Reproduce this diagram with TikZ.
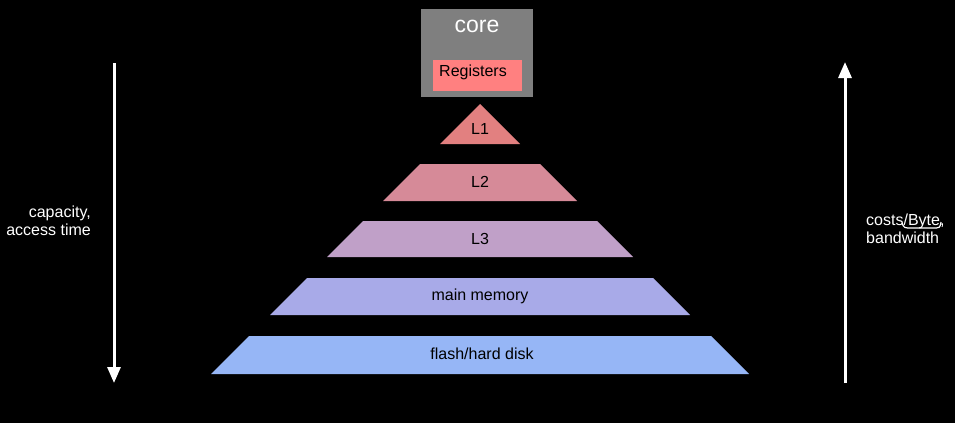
\documentclass[tikz,border=0pt]{standalone}
\usepackage{fontspec}
\setmainfont{Liberation Sans}
\usetikzlibrary{arrows.meta}
\definecolor{coregray}{RGB}{127,127,127}
\definecolor{regred}{RGB}{255,128,128}
\definecolor{cLone}{RGB}{226,128,128}
\definecolor{cLtwo}{RGB}{214,138,152}
\definecolor{cLthree}{RGB}{192,160,200}
\definecolor{cmain}{RGB}{168,170,232}
\definecolor{cflash}{RGB}{150,182,246}
\begin{document}
\begin{tikzpicture}[x=1pt,y=-1pt,
  lbl/.style={font=\fontsize{16}{18}\selectfont,text=black,inner sep=0pt},
  side/.style={font=\fontsize{16}{18}\selectfont,text=white,inner sep=0pt},
  bigarrow/.style={draw=white,line width=3pt,-{Triangle[width=13pt,length=16pt]}}]
\fill[black] (0,0) rectangle (955,423);
\useasboundingbox (0,0) rectangle (955,423);
% core
\node[fill=coregray,minimum width=112pt,minimum height=88pt,inner sep=0pt] (core) at (477,53) {};
\node[font=\fontsize{23}{25}\selectfont,text=white,inner sep=0pt] (coretxt) at (477,26) {core};
\node[fill=regred,minimum width=89pt,minimum height=31pt,inner sep=0pt] (reg) at (477.5,75.5) {};
\node[lbl] (regtxt) at (473,72) {Registers};
% levels
\fill[cLone] (480,104) -- (520,144) -- (440,144) -- cycle;
\node[lbl] (l1) at (480,129) {L1};
\fill[cLtwo] (420,164) -- (540,164) -- (577,201) -- (383,201) -- cycle;
\node[lbl] (l2) at (480,182) {L2};
\fill[cLthree] (363,221) -- (597,221) -- (633,257) -- (327,257) -- cycle;
\node[lbl] (l3) at (480,239) {L3};
\fill[cmain] (307,278) -- (653,278) -- (690,315) -- (270,315) -- cycle;
\node[lbl] (mm) at (480,296) {main memory};
\fill[cflash] (249,336) -- (711,336) -- (749,374) -- (211,374) -- cycle;
\node[lbl] (fl) at (482,354) {flash/hard disk};
% arrows
\coordinate (la) at (114,63);
\coordinate (lb) at (114,383);
\draw[bigarrow] (la) -- (lb);
\coordinate (ra) at (845,383);
\coordinate (rb) at (845,62);
\draw[bigarrow] (ra) -- (rb);
% side labels
\node[side,align=right,anchor=east] (left) at (91,221) {capacity,\\access time};
\node[side,align=left,anchor=west] (right) at (866,229) {costs/Byte,\\bandwidth};
\draw[white,line width=1.2pt] (902,223) .. controls (904,228) .. (912,228) -- (932,228) .. controls (940,228) .. (941,222);
\end{tikzpicture}
\end{document}
